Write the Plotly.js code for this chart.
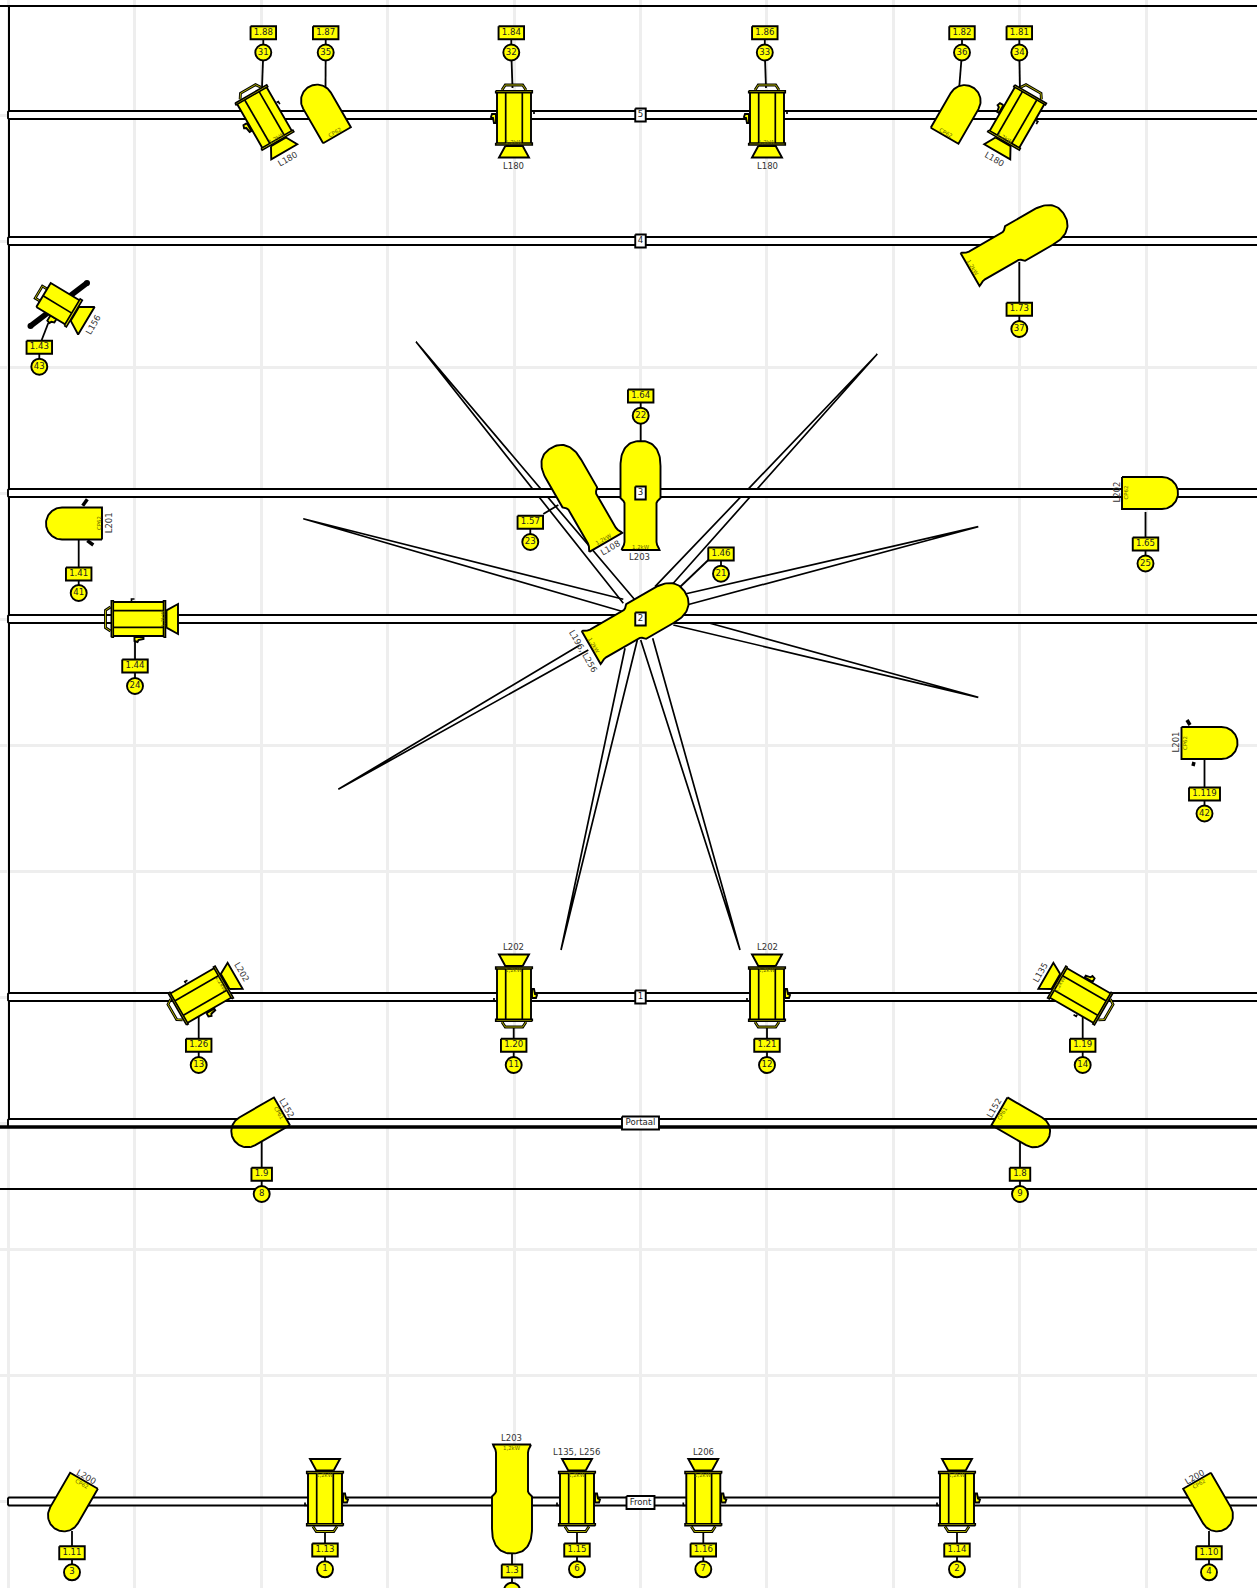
<!DOCTYPE html>
<html><head><meta charset="utf-8">
<script src="https://cdn.plot.ly/plotly-3.0.1.min.js"></script>
<style>html,body{margin:0;padding:0;background:#fff}</style>
</head><body><div id="plot" style="width:1257px;height:1588px"></div>
<script>
// ---- rigging ----
const pipeNames = ['5','4','3','2','1','Portaal','Front'];
const pipeY     = [115,241,493,619,997,1123,1501.5];
const planLineY = [6,1127,1189];

// ---- beams (tip and two edge starts) ----
const beamTipX = [416,303.3,877.3,978.3,338.3,561,978.3,740];
const beamTipY = [341.7,518.7,354,526.7,789.3,950,697.3,950];
const beamAX   = [635,623.3,655,685,580,625,673.3,640.7];
const beamAY   = [600,599.3,586.7,594,645,648.3,625,640];
const beamBX   = [623.3,623.3,671.7,686.7,588.3,637.3,710,652.7];
const beamBY   = [603.3,611.7,585,605,650,640,623.3,638.3];

// ---- fixtures ----
const kind  = ['fresnel','par','fresnel','fresnel','par','fresnel','long','profile','par','long','long','long','par','par','fresnel','fresnel','fresnel','fresnel','fresnel','par','par','par','fresnel','long','fresnel','fresnel','fresnel','par'];
const unit  = ['1.88','1.87','1.84','1.86','1.82','1.81','1.73','1.43','1.41','1.64','1.57','1.46','1.65','1.119','1.44','1.26','1.20','1.21','1.19','1.9','1.8','1.11','1.13','1.3','1.15','1.16','1.14','1.10'];
const chan  = ['31','35','32','33','36','34','37','43','41','22','23','21','25','42','24','13','11','12','14','8','9','3','1','','6','7','2','4'];
const fixX  = [263,323,514,767,958.6,1018.5,1019.4,58.5,74,640.5,577.3,640.5,1150,1209.5,135.5,198.3,514,767,1082.7,257.7,1023.7,70,325,512,577,703.3,957,1211];
const fixY  = [115,111,115,115,111.5,115,241,304,523.5,493,493,619,493,743,619,997,997,997,997,1125.3,1125.3,1505,1501.5,1501.5,1501.5,1501.5,1501.5,1505];
const fixA  = [30,30,0,0,-30,-30,-60,59,90,0,30,-60,-90,-90,90,120,180,180,-120,120,-120,150,180,180,180,180,180,-150];
const inner = ['1,2kW','CP62','1,2kW','1,2kW','CP62','1,2kW','1,2kW','','CP62','1,2kW','1,2kW','1,2kW','CP62','CP62','1,2kW','1,2kW','1,2kW','1,2kW','1,2kW','CP61','CP61','CP62','1,2kW','1,2kW','1,2kW','1,2kW','1,2kW','CP62'];
const boxX  = [263.3,325.7,511.3,764.8,962,1019.3,1019.3,39.3,78.7,640.7,530.3,721,1145.5,1204.5,135,198.7,513.7,767,1082.7,261.7,1020,72,325,512,577,703.3,957,1209];
const boxY  = [32.7,32.7,32.7,32.7,32.7,32.7,309.3,347.3,574,396,522.3,554,544,794,666,1045.3,1045.3,1045.3,1045.3,1174.3,1174.3,1552.7,1550,1571,1550,1550,1550,1552.7];
const circY = [52.5,52.5,52.5,52.5,52.5,52.5,329,366.7,593,415.7,542,573.7,563.5,813.5,686,1065,1065,1065,1065,1194,1194,1572.3,1569.3,1590.7,1569.3,1569.3,1569.3,1572.3];
const leadFromX = [263.3,325.7,511.3,764.8,962,1019.3,1019.3,41.7,78.7,640.7,543.3,708.3,1145.5,1204.5,135,198.7,513.7,767,1082.7,261.7,1020,72,325,512,577,703.3,957,1209];
const leadFromY = [52.5,52.5,52.5,52.5,52.5,52.5,309.3,340,574,415.7,514,560,544,794,666,1045.3,1045.3,1045.3,1045.3,1174.3,1174.3,1552.7,1550,1571,1550,1550,1550,1552.7];
const leadToX   = [262,325.5,512.5,766,959,1020,1019.3,48.3,78.7,640.7,558.3,680,1145.5,1204.5,135,198.7,513.7,767,1082.7,261.7,1020,72,325,512,577,703.3,957,1209];
const leadToY   = [88,90,88,88,90,90,262,323,540,445,505,587,512,760,640,1017,1028,1028,1017,1142,1142,1531,1530,1552,1530,1530,1530,1531];

// ---- lamp type captions ----
const capText = ['L180','L180','L180','L180','L156','L201','L202','L201','L108','L203','L196, L256','L202','L202','L202','L135','L152','L152','L200','L200','L203','L135, L256','L206'];
const capX    = [287.3,513.3,767,994.3,93,109,1116,1175,610,639.3,583.3,241.7,513.3,767,1040.7,286.7,994.3,86.7,1194.3,511.7,576.7,703.3];
const capY    = [158.7,165.7,165.7,159,325,523.3,492.5,742.5,548.3,556.7,650.7,972.3,947.3,947.3,972.3,1108.3,1108.3,1476.7,1476.7,1438.3,1451.7,1451.7];
const capRot  = [-30,0,0,30,-60,-90,-90,-90,-30,0,60,60,0,0,-60,60,-60,30,-30,0,0,0];

// ---- small hardware drawn at plan level ----
const stubX0 = [82.7,87.3,1190,1194], stubY0 = [505.7,540.7,725,762];
const stubX1 = [87.3,93.3,1187,1193], stubY1 = [499.3,545,720,766];
const barX = [30.5,87], barY = [326,283];

const FONT='DejaVu Sans';
const STROKE=1.9;
function layer(){return {x:[],y:[]};}
function place(l,i,pts,close){
  const t=fixA[i]*Math.PI/180,c=Math.cos(t),s=Math.sin(t);
  const seq=close?pts.concat([pts[0]]):pts;
  seq.forEach(p=>{l.x.push(fixX[i]+p[0]*c+p[1]*s);l.y.push(fixY[i]-p[0]*s+p[1]*c);});
  l.x.push(null);l.y.push(null);
}
function dome(hw,wBase,depth,pow){const o=[];for(let a=0;a<=180;a+=4){const r=a*Math.PI/180,c=Math.cos(r),s=Math.sin(r);o.push([hw*Math.sign(c)*Math.pow(Math.abs(c),pow),wBase-depth*Math.pow(s,pow)]);}return o;}
function parOutline(){return [[-16,28],[16,28]].concat(dome(16,-12,16,1));}
function longOutline(){return [[-19,57],[19,57],[18.4,55.5],[16.6,52],[16,49],[16,10],[17,8],[20,5]].concat(dome(20,-27,25,0.85)).concat([[-20,5],[-17,8],[-16,10],[-16,49],[-16.6,52],[-18.4,55.5]]);}

const L={back:layer(),body:layer(),flange:layer(),lines:layer(),handle:layer()};
kind.forEach((k,i)=>{
  if(k==='par') place(L.body,i,parOutline(),true);
  if(k==='long') place(L.body,i,longOutline(),true);
  if(k==='fresnel'){
    place(L.back,i,[[-8.7,31],[8.7,31],[15,42.5],[-15,42.5]],true);
    place(L.back,i,[[-18,-1],[-22,-1],[-23,2],[-21,3],[-20,8],[-18,8]],true);
    place(L.handle,i,[[-12,-25],[-8.7,-30],[8.7,-30],[12,-25]],false);
    place(L.lines,i,[[18,-4],[20,-4],[20,-1]],false);
    place(L.body,i,[[-17,-23],[17,-23],[17,29],[-17,29]],true);
    place(L.lines,i,[[-8.3,-23],[-8.3,29]],false);
    place(L.lines,i,[[8.3,-23],[8.3,29]],false);
    place(L.flange,i,[[-18.3,-24.2],[18.3,-24.2],[18.3,-22.2],[-18.3,-22.2]],true);
    place(L.flange,i,[[-18.3,28],[18.3,28],[18.3,30],[-18.3,30]],true);
  }
  if(k==='profile'){
    place(L.back,i,[[-8,19],[8,19],[16,32.5],[-16,32.5]],true);
    place(L.back,i,[[-14,-1],[-20,-1],[-21,2],[-19,3],[-18,6],[-14,6]],true);
    place(L.handle,i,[[-7,-17],[-7,-23],[7,-23],[7,-17]],false);
    place(L.body,i,[[-14,-17.5],[14,-17.5],[14,17],[-14,17]],true);
    place(L.lines,i,[[-1,-17],[-1,17]],false);
    place(L.flange,i,[[-15.5,16],[15.5,16],[15.5,18.5],[-15.5,18.5]],true);
  }
});

const traces=[];
function line(x,y,w,c){traces.push({type:'scatter',mode:'lines',x,y,line:{color:c||'#000',width:w},hoverinfo:'skip',showlegend:false,connectgaps:false});}
function poly(l,w,fill){traces.push({type:'scatter',mode:'lines',x:l.x,y:l.y,fill:'toself',fillcolor:fill,line:{color:'#000',width:w},hoverinfo:'skip',showlegend:false});}
function seg(x0,y0,x1,y1){const x=[],y=[];x0.forEach((_,i)=>{x.push(x0[i],x1[i],null);y.push(y0[i],y1[i],null);});return {x,y};}

// plan lines and beams sit under the pipes
line([0,1257],[planLineY[0],planLineY[0]],2.2);
line([9,9],[planLineY[0],planLineY[1]],2);
line([0,1257],[planLineY[2],planLineY[2]],2);
const bx=[],by=[];
beamTipX.forEach((_,i)=>{bx.push(beamAX[i],beamTipX[i],beamBX[i],null);by.push(beamAY[i],beamTipY[i],beamBY[i],null);});
line(bx,by,1.7);
// pipes
const pipeL=layer();
pipeY.forEach(c=>{pipeL.x.push(1262,9,8,8,9,1262,null);pipeL.y.push(c-4,c-4,c-3,c+3,c+4,c+4,null);});
poly(pipeL,STROKE,'#ffffff');
// leaders and hardware
const s1=seg(leadFromX,leadFromY,leadToX,leadToY); line(s1.x,s1.y,1.8);
const s2=seg(boxX,boxY,boxX,circY); line(s2.x,s2.y,1.8);
line(barX,barY,5.5); traces.push({type:'scatter',mode:'markers',x:barX,y:barY,marker:{size:6,color:'#000'},hoverinfo:'skip',showlegend:false});
const s3=seg(stubX0,stubY0,stubX1,stubY1); line(s3.x,s3.y,3.5);
// fixtures
line(L.handle.x,L.handle.y,2.8);
line(L.handle.x,L.handle.y,0.8,'#dddd00');
poly(L.back,STROKE,'#ffff00');
poly(L.body,STROKE,'#ffff00');
line(L.lines.x,L.lines.y,1.7);
poly(L.flange,1.6,'#dddd00');
// portal bar runs over the fixtures
line([0,1257],[planLineY[1],planLineY[1]],3.4);

// name boxes
function boxes(xs,ys,ws,h,fill){const l=layer();xs.forEach((x,i)=>{const a=ws[i]/2,b=h/2;l.x.push(x-a,x+a,x+a,x-a,x-a,null);l.y.push(ys[i]-b,ys[i]-b,ys[i]+b,ys[i]+b,ys[i]-b,null);});poly(l,STROKE,fill);}
const pipeBoxW=pipeNames.map(n=>n==='Portaal'?37:n==='Front'?28:10.5);
boxes(pipeNames.map(()=>640.5),pipeY.map(y=>y===1501.5?1502.5:y),pipeBoxW,13,'#ffffff');
boxes(boxX,boxY,unit.map(u=>u.length===3?20.5:u.length===4?25.5:31),13,'#ffff00');
traces.push({type:'scatter',mode:'markers+text',x:boxX,y:circY,text:chan,textposition:'middle center',textfont:{family:FONT,size:8.6,color:'#222'},marker:{size:16,color:'#ffff00',line:{color:'#000',width:1.9}},hoverinfo:'skip',showlegend:false});
traces.push({type:'scatter',mode:'text',x:boxX,y:boxY,text:unit,textposition:'middle center',textfont:{family:FONT,size:8.6,color:'#222'},hoverinfo:'skip',showlegend:false});
traces.push({type:'scatter',mode:'text',x:pipeNames.map(()=>640.5),y:pipeY.map(y=>y===1501.5?1502.5:y),text:pipeNames,textposition:'middle center',textfont:{family:FONT,size:8.6,color:'#222'},hoverinfo:'skip',showlegend:false});

// rotated captions
const anns=[];
capText.forEach((t,i)=>anns.push({x:capX[i],y:capY[i],text:t,textangle:capRot[i],showarrow:false,xanchor:'center',yanchor:'middle',borderpad:0,font:{family:FONT,size:8.5,color:'#333'}}));
const innerW={fresnel:27,par:24.5,long:53.5};
inner.forEach((t,i)=>{
  if(!t) return;
  const w=innerW[kind[i]],r=fixA[i]*Math.PI/180;
  let rot=-fixA[i]; while(rot<-90)rot+=180; while(rot>=90)rot-=180;
  anns.push({x:fixX[i]+w*Math.sin(r),y:fixY[i]+w*Math.cos(r),text:t,textangle:rot,showarrow:false,xanchor:'center',yanchor:'middle',borderpad:0,font:{family:FONT,size:5.4,color:'#666600'}});
});

const ax={showticklabels:false,ticks:'',zeroline:false,showline:false,showgrid:true,gridcolor:'#eeeeee',gridwidth:3,tickmode:'linear'};
Plotly.newPlot('plot',traces,{
  width:1257,height:1588,margin:{l:0,r:0,t:0,b:0,pad:0},paper_bgcolor:'#fff',plot_bgcolor:'#fff',showlegend:false,
  xaxis:Object.assign({},ax,{range:[0,1257],tick0:8.5,dtick:126.4}),
  yaxis:Object.assign({},ax,{range:[1588,0],tick0:-11,dtick:126}),
  annotations:anns
},{staticPlot:true,displayModeBar:false});
</script></body></html>
